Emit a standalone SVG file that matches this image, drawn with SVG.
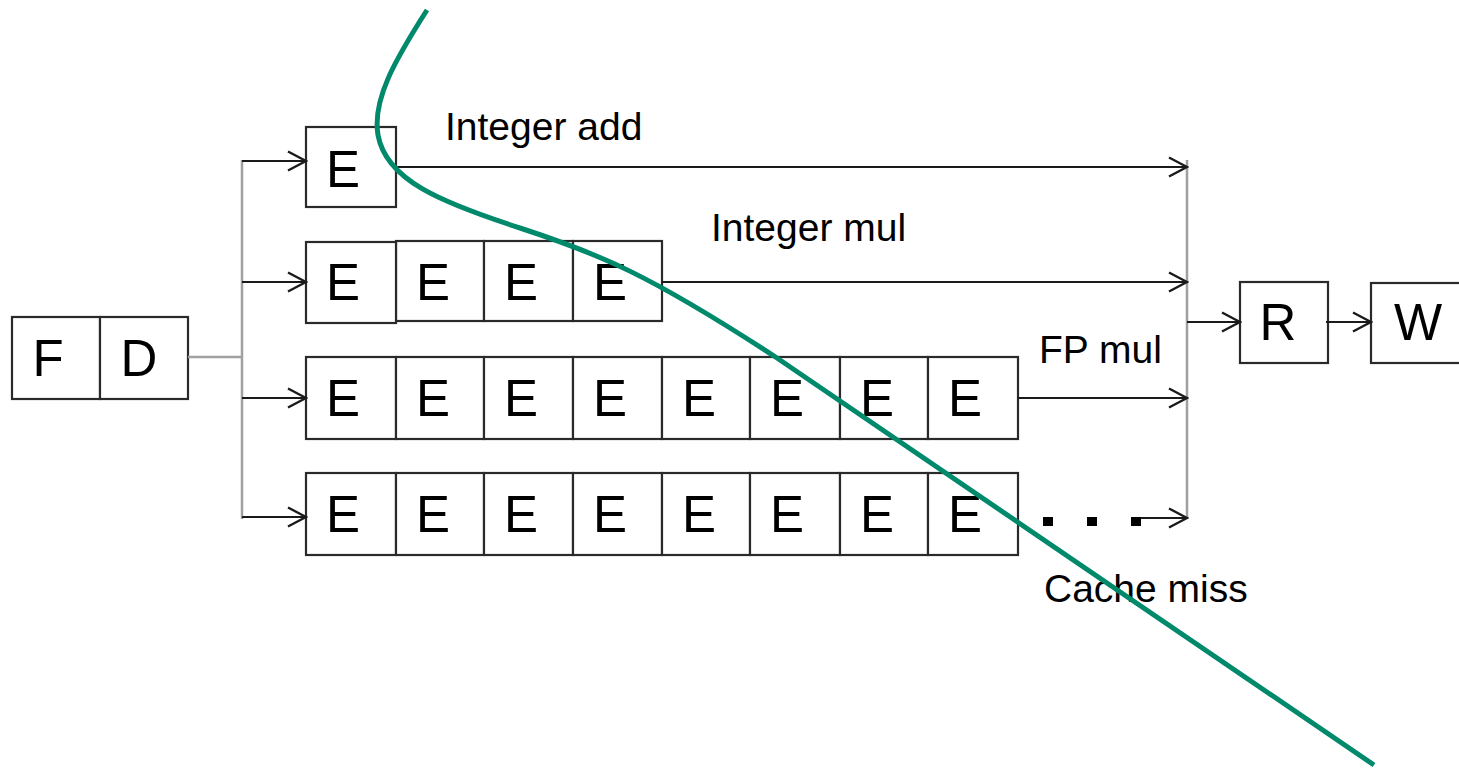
<svg xmlns="http://www.w3.org/2000/svg" width="1459" height="768" viewBox="0 0 1459 768">
  <style>
    .box { fill: #ffffff; stroke: #2a2a2a; stroke-width: 2.2; }
    .stage { font-family: "Liberation Sans", Arial, sans-serif; font-size: 51px; fill: #000000; text-anchor: middle; }
    .label { font-family: "Liberation Sans", Arial, sans-serif; font-size: 39px; fill: #000000; }
    .wire { fill: none; stroke: #1a1a1a; stroke-width: 2.2; }
    .bus { fill: none; stroke: #a0a0a0; stroke-width: 2.5; }
    .dot { fill: #000000; }
    .cut { fill: none; stroke: #00896B; stroke-width: 5; stroke-linecap: butt; }
  </style>
  <defs>
    <marker id="open-arrow" viewBox="0 0 22 22" refX="20" refY="11" markerWidth="22" markerHeight="22" markerUnits="userSpaceOnUse" orient="auto">
      <path d="M2,1.5 L20,11 L2,20.5" fill="none" stroke="#1a1a1a" stroke-width="2.4"/>
    </marker>
  </defs>

  <rect width="1459" height="768" fill="#ffffff"/>

  <!-- Fetch / decode -->
  <g id="fetch-decode">
    <rect class="box" x="12" y="317" width="88" height="82"/>
    <rect class="box" x="100" y="317" width="88" height="82"/>
    <text class="stage" x="48" y="376">F</text>
    <text class="stage" x="139" y="376">D</text>
  </g>

  <!-- Integer add pipe: one execute stage -->
  <g id="int-add">
    <rect class="box" x="306" y="127" width="90" height="80"/>
    <text class="stage" x="343" y="187">E</text>
  </g>

  <!-- Integer mul pipe: four execute stages -->
  <g id="int-mul">
    <rect class="box" x="396" y="241" width="88" height="80"/>
    <rect class="box" x="484" y="241" width="89" height="80"/>
    <rect class="box" x="573" y="241" width="89" height="80"/>
    <rect class="box" x="306" y="242" width="90" height="81"/>
    <text class="stage" x="343" y="300">E</text>
    <text class="stage" x="433" y="300">E</text>
    <text class="stage" x="521" y="300">E</text>
    <text class="stage" x="610" y="300">E</text>
  </g>

  <!-- FP mul pipe: eight execute stages -->
  <g id="fp-mul">
    <rect class="box" x="306" y="357" width="90" height="82"/>
    <rect class="box" x="396" y="357" width="88" height="82"/>
    <rect class="box" x="484" y="357" width="89" height="82"/>
    <rect class="box" x="573" y="357" width="89" height="82"/>
    <rect class="box" x="662" y="357" width="88" height="82"/>
    <rect class="box" x="750" y="357" width="90" height="82"/>
    <rect class="box" x="840" y="357" width="88" height="82"/>
    <rect class="box" x="928" y="357" width="90" height="82"/>
    <text class="stage" x="343" y="416">E</text>
    <text class="stage" x="433" y="416">E</text>
    <text class="stage" x="521" y="416">E</text>
    <text class="stage" x="610" y="416">E</text>
    <text class="stage" x="699" y="416">E</text>
    <text class="stage" x="787" y="416">E</text>
    <text class="stage" x="877" y="416">E</text>
    <text class="stage" x="965" y="416">E</text>
  </g>

  <!-- Memory pipe: eight execute stages, then a cache miss -->
  <g id="mem">
    <rect class="box" x="306" y="473" width="90" height="82"/>
    <rect class="box" x="396" y="473" width="88" height="82"/>
    <rect class="box" x="484" y="473" width="89" height="82"/>
    <rect class="box" x="573" y="473" width="89" height="82"/>
    <rect class="box" x="662" y="473" width="88" height="82"/>
    <rect class="box" x="750" y="473" width="90" height="82"/>
    <rect class="box" x="840" y="473" width="88" height="82"/>
    <rect class="box" x="928" y="473" width="90" height="82"/>
    <text class="stage" x="343" y="532">E</text>
    <text class="stage" x="433" y="532">E</text>
    <text class="stage" x="521" y="532">E</text>
    <text class="stage" x="610" y="532">E</text>
    <text class="stage" x="699" y="532">E</text>
    <text class="stage" x="787" y="532">E</text>
    <text class="stage" x="877" y="532">E</text>
    <text class="stage" x="965" y="532">E</text>
  </g>

  <!-- Register read / write back -->
  <g id="read">
    <rect class="box" x="1240" y="282" width="88" height="81"/>
    <text class="stage" x="1278" y="340">R</text>
  </g>
  <g id="write">
    <rect class="box" x="1371" y="283" width="90" height="80"/>
    <text class="stage" x="1418" y="340">W</text>
  </g>

  <!-- Connectors -->
  <g id="connectors">
    <!-- issue bus -->
    <path class="bus" d="M188,357 H242 M242,160 V519"/>
    <path class="wire" d="M242,161 H306" marker-end="url(#open-arrow)"/>
    <path class="wire" d="M242,282 H306" marker-end="url(#open-arrow)"/>
    <path class="wire" d="M242,398 H306" marker-end="url(#open-arrow)"/>
    <path class="wire" d="M242,517 H306" marker-end="url(#open-arrow)"/>

    <!-- completion bus -->
    <path class="bus" d="M1187,160 V519"/>
    <path class="wire" d="M396,167 H1187" marker-end="url(#open-arrow)"/>
    <path class="wire" d="M662,282 H1187" marker-end="url(#open-arrow)"/>
    <path class="wire" d="M1018,398 H1187" marker-end="url(#open-arrow)"/>
    <rect class="dot" x="1043" y="517" width="10" height="9"/>
    <rect class="dot" x="1087" y="517" width="10" height="9"/>
    <rect class="dot" x="1131" y="517" width="10" height="9"/>
    <path class="wire" d="M1141,518 H1187" marker-end="url(#open-arrow)"/>

    <path class="wire" d="M1187,322 H1240" marker-end="url(#open-arrow)"/>
    <path class="wire" d="M1326,322 H1371" marker-end="url(#open-arrow)"/>
  </g>

  <!-- Pipe labels -->
  <g id="labels">
    <text class="label" x="445" y="140">Integer add</text>
    <text class="label" x="711" y="241">Integer mul</text>
    <text class="label" x="1039" y="363">FP mul</text>
    <text class="label" x="1044" y="602">Cache miss</text>
  </g>

  <!-- Cut line across the pipes -->
  <path class="cut" d="M427,10 C395,60 372,100 378,135 C386,180 440,202 520,228 C600,254 650,275 777,358 L1374,765"/>
</svg>
